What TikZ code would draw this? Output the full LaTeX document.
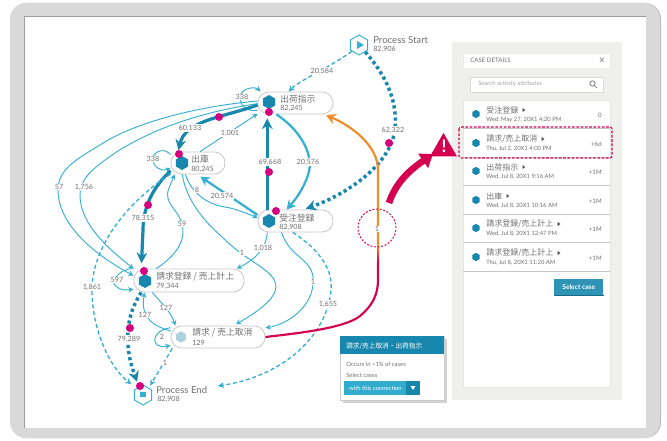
\documentclass[tikz,border=0pt]{standalone}
\usepackage{fontspec}
\setmainfont{Lato}
\newfontfamily\cjk{Noto Sans CJK JP}
\usetikzlibrary{shapes,arrows,fit, positioning, arrows.meta}
\definecolor{flow_dark}{HTML}{1787AD}
\definecolor{flow_light}{HTML}{35B0D2}
\definecolor{token_pink}{HTML}{D6007F}
\definecolor{alert_red}{HTML}{D5004F}
\definecolor{flame_orange}{HTML}{F28C28}
\definecolor{panel_gray}{HTML}{EFEFED}
\definecolor{frame_gray}{HTML}{D9D9D9}
\definecolor{text_gray}{HTML}{707070}

\begin{document}
\begin{tikzpicture}[x=0.75pt, y=-0.75pt]
	\tikzstyle{activity_style}=[rectangle, draw=black!22, fill=white, rounded corners=8pt, line width=0.6pt, minimum height=16.5pt, inner sep=0pt]
	\tikzstyle{name_style}=[text=text_gray, font=\cjk\fontsize{6.6}{7}\selectfont, anchor=west, inner sep=0pt]
	\tikzstyle{count_style}=[text=text_gray, font=\fontsize{5.4}{6}\selectfont, anchor=west, inner sep=0pt]
	\tikzstyle{process_style}=[text=text_gray, font=\fontsize{7.2}{8}\selectfont, anchor=west, inner sep=0pt]
	\tikzstyle{flow_label_style}=[text=text_gray, fill=white, font=\fontsize{5.4}{6}\selectfont, inner sep=0.6pt]
	\tikzstyle{thin_flow}=[draw=flow_light, line width=0.7pt, -{Stealth[length=4pt,width=4pt]}]
	\tikzstyle{mid_flow}=[draw=flow_light, line width=1.7pt, -{Stealth[length=7pt,width=7.5pt]}]
	\tikzstyle{fat_flow}=[draw=flow_dark, line width=2.4pt, -{Stealth[length=8pt,width=8pt]}]
	\tikzstyle{dash_flow}=[draw=flow_light, line width=1pt, dash pattern=on 3pt off 2pt, -{Stealth[length=4.5pt,width=4.5pt]}]
	\tikzstyle{dot_flow}=[draw=flow_dark, line width=2.6pt, dash pattern=on 2.4pt off 2.2pt, -{Stealth[length=8pt,width=8pt]}]
	\tikzstyle{token_style}=[circle, fill=token_pink, minimum size=6pt, inner sep=0pt]
	\tikzstyle{hex_style}=[regular polygon, regular polygon sides=6, shape border rotate=90, fill=flow_dark, minimum size=10.5pt, inner sep=0pt]
	\tikzstyle{process_hex_style}=[regular polygon, regular polygon sides=6, shape border rotate=90, draw=flow_light, line width=0.7pt, minimum size=15pt, inner sep=0pt]
	\tikzstyle{row_name_style}=[text=text_gray, font=\cjk\fontsize{6}{7}\selectfont, anchor=west, inner sep=0pt]
	\tikzstyle{row_date_style}=[text=text_gray, font=\fontsize{4.4}{5}\selectfont, anchor=west, inner sep=0pt]
	\tikzstyle{row_delta_style}=[text=text_gray, font=\fontsize{4.6}{5}\selectfont, anchor=east, inner sep=0pt]
	\tikzstyle{row_hex_style}=[regular polygon, regular polygon sides=6, shape border rotate=90, fill=flow_dark, minimum size=6.2pt, inner sep=0pt]

	\useasboundingbox (0,0) rectangle (667,441);

	% frame
	\fill[black!28, rounded corners=12pt] (11,3) rectangle (661,438);
	\fill[frame_gray, rounded corners=12pt] (10,3) rectangle (660,438);
	\fill[white] (24,16) rectangle (646,428);
	\draw[black!38, line width=0.7pt] (24,428) -- (24,16) -- (646,16);

	% activities
	\node at (295.5, 103) [activity_style, minimum width=56.25pt] (box_ship) {};
	\node at (198, 163) [activity_style, minimum width=40.5pt] (box_issue) {};
	\node at (295.5, 221) [activity_style, minimum width=56.25pt] (box_order) {};
	\node at (189, 280.5) [activity_style, minimum width=82.5pt, minimum height=17.25pt] (box_bill) {};
	\node at (218, 337) [activity_style, minimum width=70.5pt] (box_cancel) {};
	\node at (359, 45) [process_hex_style] (hex_start) {};
	\node at (143, 395) [process_hex_style] (hex_end) {};
	\coordinate (end_tip) at (218, 386);

	% connect: thin flows
	\draw[thin_flow] (box_ship.177) .. controls (190,107) and (130,125) .. (100,145) .. controls (75,160) and (58,170) .. (58,190) .. controls (58,225) and (95,255) .. (box_bill.175);
	\draw[thin_flow] (box_ship.181) .. controls (200,112) and (150,130) .. (115,153) .. controls (90,170) and (80,180) .. (80,195) .. controls (80,225) and (110,250) .. (box_bill.168);
	\draw[thin_flow] (box_ship.191) .. controls (245,112) and (240,104) .. (240,98) .. controls (240,88) and (255,86) .. (box_ship.162);
	\draw[thin_flow] (box_issue.80) -- (box_ship.196);
	\draw[thin_flow] (box_issue.163) .. controls (165,148) and (155,150) .. (153,158) .. controls (152,167) and (162,172) .. (box_issue.190);
	\draw[thin_flow] (box_issue.222) .. controls (192,195) and (210,205) .. (225,207) .. controls (237,209) and (245,213) .. (box_order.175);
	\draw[thin_flow, shorten >=2pt] (box_issue.216) .. controls (186,200) and (205,222) .. (220,235) .. controls (240,255) and (255,262) .. (265,270) .. controls (285,285) and (278,300) .. (box_cancel.36);
	\draw[thin_flow] (box_bill.160) .. controls (172,258) and (184,245) .. (183,230) .. controls (182,210) and (162,205) .. (169,188) -- (box_issue.206);
	\draw[thin_flow] (box_order.202) .. controls (266,252) and (250,262) .. (box_bill.14);
	\draw[thin_flow] (box_order.219) .. controls (288,250) and (297,254) .. (303,260) .. controls (312,268) and (314,275) .. (313,285) .. controls (310,310) and (285,325) .. (box_cancel.11);
	\draw[thin_flow] (box_bill.198) .. controls (160,302) and (170,310) .. (box_cancel.165);
	\draw[thin_flow] (box_cancel.173) .. controls (155,326) and (140,320) .. (box_bill.195);
	\draw[thin_flow] (box_cancel.169) .. controls (150,330) and (150,350) .. (box_cancel.190);
	\draw[thin_flow] (box_bill.168) .. controls (118,268) and (110,284) .. (116,286) .. controls (120,291) and (127,290) .. (box_bill.189);

	% connect: thick flows
	\draw[mid_flow] (box_ship.211) .. controls (300,130) and (315,155) .. (308,175) .. controls (303,190) and (295,200) .. (box_order.128);
	\draw[mid_flow, shorten >=3pt] (box_order.171) -- (box_issue.265);
	\draw[fat_flow, shorten >=1pt] (box_ship.183) .. controls (225,117) and (185,120) .. (box_issue.150);
	\draw[fat_flow, shorten >=3pt] (box_order.158) -- (box_ship.202);
	\draw[fat_flow, shorten >=4pt] (box_issue.196) .. controls (155,185) and (143,205) .. (143,230) -- (box_bill.166);

	% connect: dotted flows
	\draw[dot_flow, shorten >=2pt] (hex_start.312) .. controls (390,80) and (397,105) .. (395,128) .. controls (392,165) and (345,195) .. (box_order.56);
	\draw[dot_flow, shorten >=4pt] (box_bill.194) .. controls (130,310) and (127,325) .. (128,345) .. controls (129,360) and (133,370) .. (hex_end.117);

	% connect: dashed flows
	\draw[dash_flow] (hex_start.222) .. controls (325,70) and (300,80) .. (box_ship.121);
	\draw[dash_flow, shorten >=5pt] (box_issue.202) .. controls (130,200) and (92,245) .. (92,290) .. controls (92,330) and (110,368) .. (hex_end.133);
	\draw[dash_flow, shorten >=2pt] (box_cancel.194) -- (hex_end.51);
	\draw[dash_flow] (box_order.257) .. controls (320,250) and (333,270) .. (331,290) .. controls (328,330) and (290,375) .. (end_tip);

	% highlighted connection
	\coordinate (bend_top) at (378, 245);
	\coordinate (bend_low) at (378, 262);
	\draw[flame_orange, line width=1.6pt, -{Stealth[length=7pt,width=8pt]}, shorten >=2pt] (bend_top) -- (378,170) .. controls (378,145) and (350,125) .. (box_ship.338);
	\shade[top color=flame_orange, middle color=alert_red!25, bottom color=alert_red] (377,245) rectangle (379,262);
	\draw[alert_red, line width=1.6pt] (box_cancel.east) .. controls (300,333) and (345,328) .. (360,316) .. controls (372,306) and (378,295) .. (378,280) -- (bend_low);
	\node at (377, 228) [circle, draw=alert_red, dash pattern=on 1.5pt off 1.2pt, line width=0.7pt, minimum size=28.5pt, inner sep=0pt] (pick_circle) {};

	% alert
	\coordinate (alert_tail) at (389, 203);
	\coordinate (alert_tip) at (433, 154);

	% case details panel
	\fill[panel_gray] (452,42) rectangle (622,400);
	\node at (463, 53) [fill=white, draw=black!8, line width=0.4pt, anchor=north west, minimum width=110.25pt, minimum height=11.25pt, inner sep=0pt] (panel_title_box) {};
	\node at (470, 60.5) [row_date_style, font=\fontsize{4.6}{5}\selectfont] (panel_title) {CASE DETAILS};
	\node at (602, 60.5) [text=text_gray, font=\fontsize{7.5}{7}\selectfont, inner sep=0pt] (panel_close) {×};
	\node at (470, 77) [draw=black!15, fill=white, anchor=north west, minimum width=99.75pt, minimum height=11.25pt, inner sep=0pt, line width=0.6pt] (search_box) {};
	\node at (478, 84) [row_date_style, text=black!35] (search_text) {Search activity attributes};
	\draw[text_gray, line width=0.5pt] (592.5,83.5) circle (2pt) (594.5,85.5) -- (597,88);
	\node at (463, 100) [fill=white, draw=black!10, line width=0.4pt, anchor=north west, minimum width=110.25pt, minimum height=215.25pt, inner sep=0pt] (list_box) {};
	\foreach \y/\nm/\dt/\dl [count=\i] in {
		114/受注登録/{Wed, May 27, 20X1 4:20 PM}/0,
		143/{請求/売上取消}/{Thu, Jul 2, 20X1 4:00 PM}/+6d,
		171/出荷指示/{Wed, Jul 8, 20X1 9:16 AM}/+1M,
		200/出庫/{Wed, Jul 8, 20X1 10:16 AM}/+1M,
		228/{請求登録/売上計上}/{Wed, Jul 8, 20X1 12:47 PM}/+1M,
		257/{請求登録/売上計上}/{Thu, Jul 8, 20X1 11:20 AM}/+1M}
	{
		\node at (476, \y) [row_hex_style] (row_hex_\i) {};
		\node at (486, \y-4) [row_name_style] (row_name_\i) {\nm};
		\node at (486, \y+6) [row_date_style] (row_date_\i) {\dt};
		\node at (602, \y+1.5) [row_delta_style] (row_delta_\i) {\dl};
		\fill[black!70] ([xshift=3pt,yshift=1.5pt]row_name_\i.east) -- ([xshift=3pt,yshift=-1.5pt]row_name_\i.east) -- ([xshift=5pt]row_name_\i.east) -- cycle;
		\draw[black!22, line width=0.6pt] (463,\y+14) -- (610,\y+14);
	}
	\node at (554, 279) [fill=flow_dark!90!white, anchor=north west, minimum width=36.75pt, minimum height=12pt, inner sep=0pt, text=white, font=\bfseries\fontsize{5}{5}\selectfont] (select_button) {Select case};
	\draw[flow_dark!80!black, line width=0.7pt] (select_button.south west) -- (select_button.south east);
	\draw[alert_red, dash pattern=on 2pt off 1.2pt, line width=0.8pt, rounded corners=1.5pt] (459,127) rectangle (612,158);

	% alert sign
	\draw[alert_red, line width=5pt, -{Triangle[length=9pt,width=12.5pt]}] (alert_tail) .. controls (396,182) and (410,170) .. (alert_tip);
	\node at (443.5, 148.6) [regular polygon, regular polygon sides=3, fill=alert_red, minimum size=23.4pt, inner sep=0pt] (alert_sign) {};
	\node at (444, 146) [text=white, font=\bfseries\fontsize{13}{13}\selectfont, inner sep=0pt] (alert_mark) {!};

	% popup
	\fill[black!18] (343,339) rectangle (447,403);
	\node at (340, 336) [fill=white, draw=black!20, line width=0.4pt, anchor=north west, minimum width=78pt, minimum height=48pt, inner sep=0pt] (popup_box) {};
	\node at (340, 336) [fill=flow_dark, anchor=north west, minimum width=78pt, minimum height=13.5pt, inner sep=0pt] (popup_head) {};
	\node at (346, 346) [row_date_style, text=white, font=\cjk\fontsize{5}{6}\selectfont] (popup_title) {請求/売上取消・出荷指示};
	\node at (346, 364) [row_date_style] (popup_occurs) {Occurs in <1\% of cases};
	\node at (346, 375) [row_date_style] (popup_select) {Select cases};
	\node at (344, 381) [fill=flow_light!90!flow_dark, anchor=north west, minimum width=46.5pt, minimum height=10.5pt, inner sep=0pt] (popup_btn) {};
	\node at (406, 381) [fill=flow_dark, anchor=north west, minimum width=10.5pt, minimum height=10.5pt, inner sep=0pt] (popup_btn_drop) {};
	\node at (349, 388) [row_date_style, text=white] (popup_btn_text) {with this connection};
	\fill[white] (410.5,386) -- (415.5,386) -- (413,390) -- cycle;

	% hexagons
	\node at (269, 102) [hex_style] (hex_ship) {};
	\node at (182, 163) [hex_style] (hex_issue) {};
	\node at (269, 221) [hex_style] (hex_order) {};
	\node at (145, 281) [hex_style] (hex_bill) {};
	\node at (181, 337) [hex_style, fill=black!8!flow_dark!35, minimum size=8.5pt] (hex_cancel) {};
	\fill[flow_light] (357,41) -- (364,45) -- (357,49) -- cycle;
	\node at (143, 394.5) [rectangle, fill=flow_light, minimum width=4.5pt, minimum height=3.8pt, inner sep=0pt] (end_square) {};

	% tokens
	\foreach \x/\y [count=\i] in {269/112, 219/117, 269/172, 179/154, 148/205, 276/211, 144/271, 130/328, 140/386, 389/143}
		\node at (\x, \y) [token_style] (token_\i) {};

	% texts
	\foreach \x/\y/\nm/\cnt/\key in {280/99/出荷指示/{82,245}/ship, 191/159.5/出庫/{80,245}/issue, 279/218/受注登録/{82,908}/order, 156/277/{請求登録 / 売上計上}/{79,344}/bill, 192/333/{請求 / 売上取消}/129/cancel}
	{
		\node at (\x, \y) [name_style] (name_\key) {\nm};
		\node at (\x, \y+9.5) [count_style] (count_\key) {\cnt};
	}
	\node at (373, 40) [process_style] (name_start) {Process Start};
	\node at (373, 49) [count_style] (count_start) {82,906};
	\node at (156, 390) [process_style] (name_end) {Process End};
	\node at (157, 399) [count_style] (count_end) {82,908};

	% flow labels
	\foreach \x/\y/\txt [count=\i] in {
		322/71/{20,584}, 242/97/338, 190/128/{60,133}, 230/133/{1,001}, 153/159/338,
		270/162/{69,668}, 308/162/{20,576}, 197/190/8, 222/196/{20,574}, 393/130/{62,322},
		143/218/{78,315}, 182/224/59, 59/187/57, 84/187/{1,756}, 263/248/{1,018},
		242/253/1, 313/282/1, 328/304/{1,655}, 117/280/597, 92/287/{1,861},
		166/308/127, 145/315/127, 162/337/2, 129/339/{79,289}, 165/363/1, 377/229/1}
		\node at (\x, \y) [flow_label_style] (flow_label_\i) {\txt};
\end{tikzpicture}
\end{document}
